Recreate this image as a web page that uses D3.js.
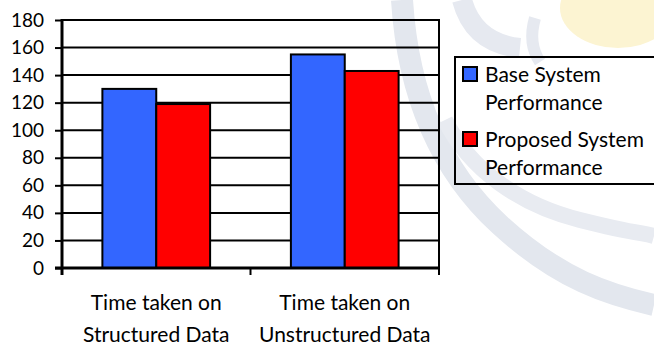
<!DOCTYPE html>
<html>
<head>
<meta charset="utf-8">
<script src="https://cdn.jsdelivr.net/npm/d3@7"></script>
<style>
  html, body { margin: 0; padding: 0; background: #fff; }
  svg { display: block; }
  text { font-family: Lato, "Open Sans", sans-serif; fill: #000; }
</style>
</head>
<body>
<svg id="chart" width="654" height="347"></svg>
<script>
// Categories (two lines each) and the two series
const categories = ["Structured", "Unstructured"];
const categoryLines = [["Time taken on", "Structured Data"], ["Time taken on", "Unstructured Data"]];
const seriesNames = ["Base System Performance", "Proposed System Performance"];
const legendLines = [["Base System", "Performance"], ["Proposed System", "Performance"]];
const baseValues = [130, 155];
const proposedValues = [119, 143];
const yTicks = [0, 20, 40, 60, 80, 100, 120, 140, 160, 180];
const colors = ["#3366FF", "#FF0000"];

const svg = d3.select("#chart");
const margin = { left: 62, right: 215, top: 20, bottom: 79 };
const W = 654, H = 347;
const innerW = W - margin.left - margin.right;
const innerH = H - margin.top - margin.bottom;

// faint emblem in the page background
const bg = svg.append("g").attr("fill", "none");
bg.append("ellipse").attr("cx", 618).attr("cy", 8).attr("rx", 58).attr("ry", 40)
  .attr("fill", "#fcf4d2").attr("stroke", "none");
bg.append("path").attr("d", "M402,0 C408,95 440,170 500,225 S610,295 654,305")
  .attr("stroke", "#e3e7ee").attr("stroke-width", 22);
bg.append("path").attr("d", "M445,120 C470,170 520,205 580,220 S640,232 654,236")
  .attr("stroke", "#e8ebf1").attr("stroke-width", 16);
bg.append("path").attr("d", "M462,0 C470,30 490,45 520,48")
  .attr("stroke", "#e6e9f0").attr("stroke-width", 20);
bg.append("path").attr("d", "M535,18 C530,35 532,50 540,62")
  .attr("stroke", "#e6e9f0").attr("stroke-width", 12);

const g = svg.append("g").attr("transform", `translate(${margin.left},${margin.top})`);

const x0 = d3.scaleBand().domain(categories).range([0, innerW]).paddingInner(0).paddingOuter(0);
const x1 = d3.scaleBand().domain(seriesNames).range([0, x0.bandwidth()]).paddingInner(0).paddingOuter(0.75);
const y = d3.scaleLinear().domain([0, 180]).range([innerH, 0]);

// horizontal gridlines (the top one closes the plot frame)
g.append("g").selectAll("line").data(yTicks.filter(d => d > 0)).join("line")
  .attr("x1", 0).attr("x2", innerW)
  .attr("y1", d => y(d)).attr("y2", d => y(d))
  .attr("stroke", "#000").attr("stroke-width", 2);

// plot border on the right side
g.append("line").attr("x1", innerW).attr("x2", innerW).attr("y1", -1).attr("y2", innerH)
  .attr("stroke", "#000").attr("stroke-width", 2);

// bars
const rows = categories.map((c, i) => ({ c, vals: [baseValues[i], proposedValues[i]] }));
const groups = g.append("g").selectAll("g").data(rows).join("g")
  .attr("transform", d => `translate(${x0(d.c)},0)`);
groups.selectAll("rect").data(d => d.vals.map((v, j) => ({ v, s: seriesNames[j], j }))).join("rect")
  .attr("x", d => x1(d.s))
  .attr("width", x1.bandwidth())
  .attr("y", d => y(d.v))
  .attr("height", d => innerH - y(d.v))
  .attr("fill", d => colors[d.j])
  .attr("stroke", "#000").attr("stroke-width", 2);

// y axis
const yAxis = g.append("g").call(d3.axisLeft(y).tickValues(yTicks).tickSize(7).tickPadding(11));
yAxis.select(".domain").attr("stroke-width", 3).attr("d", `M0,${innerH + 7}V-1`);
yAxis.selectAll(".tick line").attr("stroke-width", 2);
yAxis.selectAll(".tick text").attr("font-size", 19).attr("font-family", "Lato, sans-serif");

// x axis: ticks at category boundaries
const xAxisG = g.append("g").attr("transform", `translate(0,${innerH})`);
xAxisG.append("line").attr("x1", -7).attr("x2", innerW).attr("y1", 0).attr("y2", 0)
  .attr("stroke", "#000").attr("stroke-width", 3);
const bounds = [0, ...categories.map(c => x0(c) + x0.bandwidth())];
xAxisG.selectAll(".bt").data(bounds).join("line").attr("class", "bt")
  .attr("x1", d => d).attr("x2", d => d).attr("y1", 0).attr("y2", 7)
  .attr("stroke", "#000").attr("stroke-width", 2);

// category labels
const catLabels = xAxisG.selectAll(".cat").data(categories).join("text").attr("class", "cat")
  .attr("text-anchor", "middle").attr("font-size", 21)
  .attr("transform", d => `translate(${x0(d) + x0.bandwidth() / 2},0)`);
catLabels.selectAll("tspan").data((d, i) => categoryLines[i]).join("tspan")
  .attr("x", 0).attr("y", (d, i) => 42 + i * 32).text(d => d);

// legend (transparent box, open past the right edge)
const legend = svg.append("g").attr("transform", "translate(455,57)");
legend.append("rect").attr("x", 0).attr("y", 0).attr("width", 210).attr("height", 127)
  .attr("fill", "none").attr("stroke", "#000").attr("stroke-width", 2);
const items = legend.selectAll(".item").data(seriesNames).join("g").attr("class", "item")
  .attr("transform", (d, i) => `translate(0,${i * 65})`);
items.append("rect").attr("x", 8).attr("y", 10).attr("width", 14).attr("height", 14)
  .attr("fill", (d, i) => colors[i]).attr("stroke", "#000").attr("stroke-width", 2);
const lt = items.append("text").attr("font-size", 21);
lt.selectAll("tspan").data((d, i) => legendLines[i]).join("tspan")
  .attr("x", 30).attr("y", (d, i) => 25 + i * 28).text(d => d);
</script>
</body>
</html>
